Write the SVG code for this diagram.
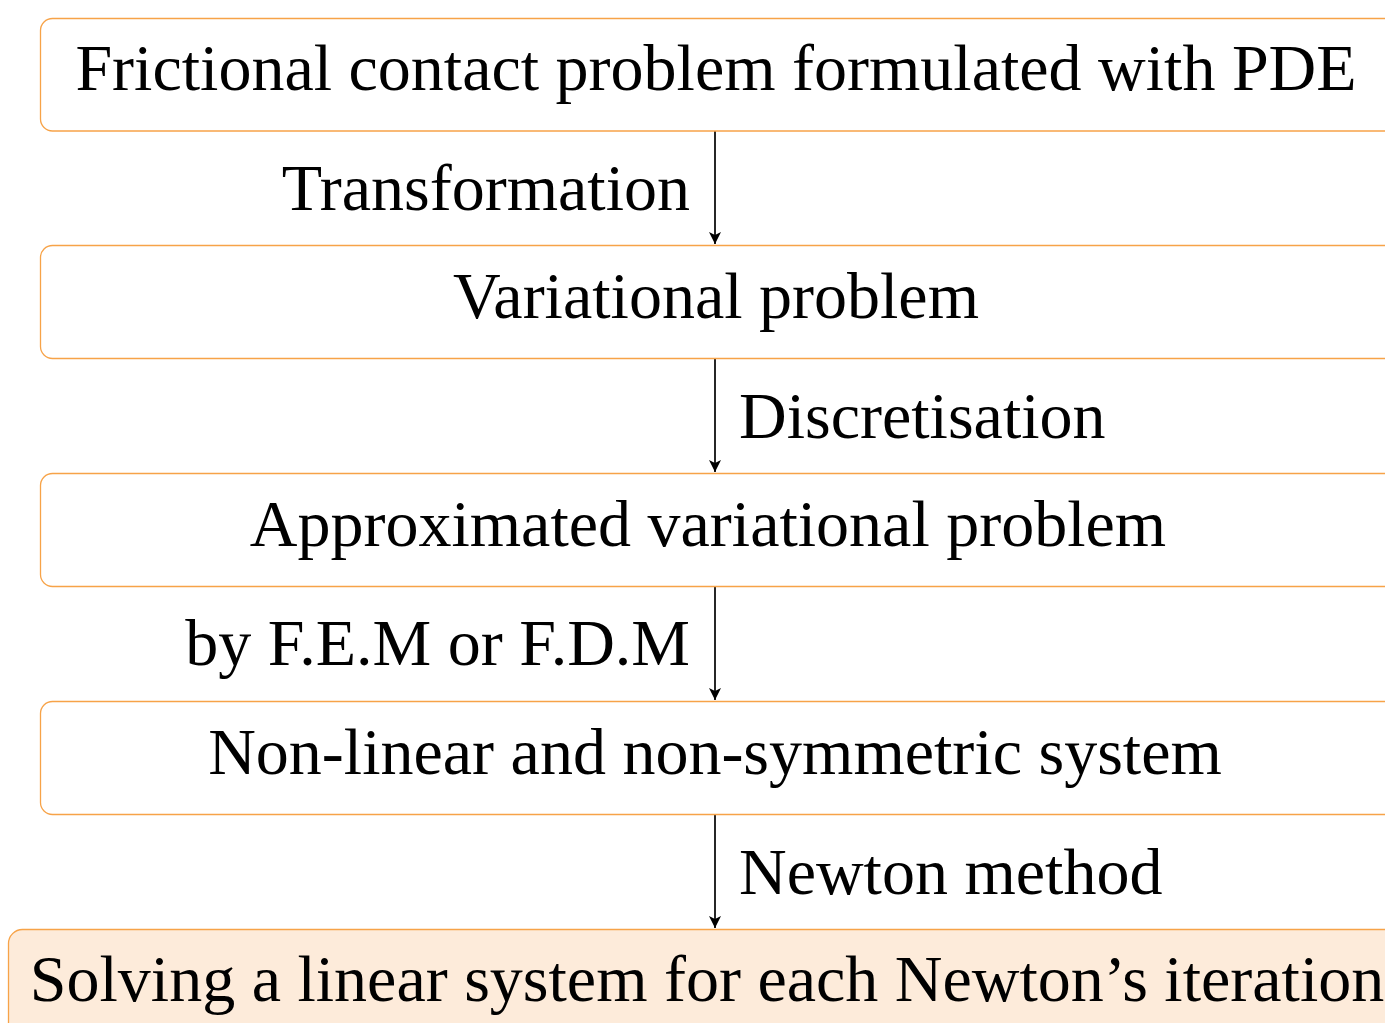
<svg xmlns="http://www.w3.org/2000/svg" width="1385" height="1023" viewBox="0 0 1385 1023">
<defs>
<marker id="ah" viewBox="0 0 12 12" refX="12" refY="6" markerWidth="13" markerHeight="12" markerUnits="userSpaceOnUse" orient="auto">
<path d="M0,0 L12,6 L0,12 L3,6 z" fill="#000"/>
</marker>
</defs>
<style>
.box{fill:#ffffff;stroke:#f7a348;stroke-width:1.3}
.fin{fill:#fdebda;stroke:#f7a348;stroke-width:1.3}
text{font-family:"Liberation Serif","Times New Roman",serif;font-size:66px;fill:#000}
.c{text-anchor:middle}
.e{text-anchor:end}
.conn{stroke:#000;stroke-width:1.7;fill:none;marker-end:url(#ah)}
</style>
<rect width="1385" height="1023" fill="#ffffff"/>
<g id="connectors">
<line class="conn" x1="715" y1="131" x2="715" y2="244"/>
<line class="conn" x1="715" y1="359" x2="715" y2="472"/>
<line class="conn" x1="715" y1="587" x2="715" y2="700"/>
<line class="conn" x1="715" y1="815" x2="715" y2="928"/>
<text class="e" x="690" y="210">Transformation</text>
<text x="739" y="438">Discretisation</text>
<text class="e" x="690" y="665">by F.E.M or F.D.M</text>
<text x="739" y="894">Newton method</text>
</g>
<g id="n1">
<rect class="box" x="40.5" y="18.5" width="1360" height="112.5" rx="12"/>
<text class="c" x="716" y="90">Frictional contact problem formulated with PDE</text>
</g>
<g id="n2">
<rect class="box" x="40.5" y="245.5" width="1360" height="113" rx="12"/>
<text class="c" x="716" y="318">Variational problem</text>
</g>
<g id="n3">
<rect class="box" x="40.5" y="473.5" width="1360" height="113" rx="12"/>
<text class="c" x="708" y="546">Approximated variational problem</text>
</g>
<g id="n4">
<rect class="box" x="40.5" y="701.5" width="1360" height="113" rx="12"/>
<text class="c" x="715" y="774">Non-linear and non-symmetric system</text>
</g>
<g id="n5">
<rect class="fin" x="8.5" y="929.5" width="1400" height="120" rx="14"/>
<text class="c" x="707" y="1001">Solving a linear system for each Newton’s iteration</text>
</g>
</svg>
